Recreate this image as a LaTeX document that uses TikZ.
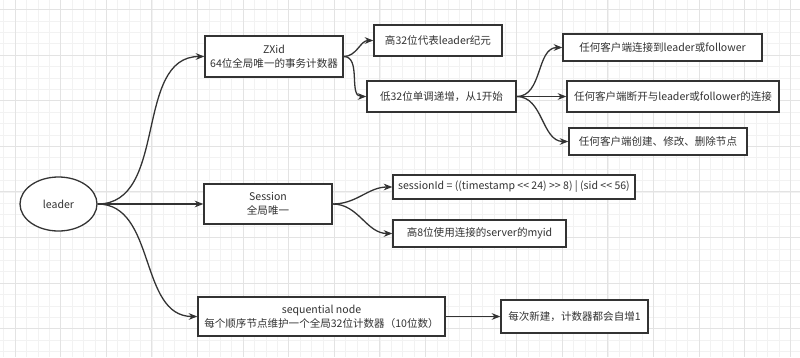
\documentclass[tikz,border=0pt]{standalone}
\usepackage{fontspec}
\newfontfamily\cjk{Noto Sans CJK SC}
\usepackage{tikz}
\usetikzlibrary{positioning,arrows.meta,shapes.geometric}
\definecolor{txtgray}{HTML}{333333}

\begin{document}
\begin{tikzpicture}[
  x=0.03cm, y=-0.03cm,
  every node/.style={font=\cjk\fontsize{9}{12}\selectfont, text=txtgray},
  box/.style={draw=black!80, line width=1.1pt, fill=white, align=center, inner sep=1pt},
  root/.style={box, ellipse},
  link/.style={draw=black!80, line width=1.1pt, -{Stealth[length=2.6mm,width=2mm]}},
  curved/.style={link, out=0, in=180},
  gridminor/.style={draw=black!5, line width=0.5pt},
  gridmajor/.style={draw=black!11, line width=0.6pt}]
  \useasboundingbox (0,0) rectangle (800,357);
  \fill[white] (0,0) rectangle (800,357);
  % background grid
  \foreach \k in {-1,...,69} \draw[gridminor] ({15+11.4*\k},0) -- ({15+11.4*\k},357);
  \foreach \k in {-1,...,31} \draw[gridminor] (0,{9.4+11.4*\k}) -- (800,{9.4+11.4*\k});
  \foreach \k in {0,...,17} \draw[gridmajor] ({15+45.6*\k},0) -- ({15+45.6*\k},357);
  \foreach \k in {0,...,7} \draw[gridmajor] (0,{9.4+45.6*\k}) -- (800,{9.4+45.6*\k});

  \node[root, minimum width=77*0.03cm, minimum height=54*0.03cm] (leader) at (58.5,204) {leader};

  \node[box, minimum width=138*0.03cm, minimum height=41*0.03cm] (zxid) at (274,56.5) {ZXid\\64位全局唯一的事务计数器};
  \node[box, minimum width=128*0.03cm, minimum height=31*0.03cm] (hi32) at (438,40.5) {高32位代表leader纪元};
  \node[box, minimum width=149*0.03cm, minimum height=31*0.03cm] (lo32) at (441.5,96.5) {低32位单调递增，从1开始};
  \node[box, minimum width=199*0.03cm, minimum height=27*0.03cm] (conn) at (662.5,47.5) {任何客户端连接到leader或follower};
  \node[box, minimum width=212*0.03cm, minimum height=31*0.03cm] (disc) at (673,96.5) {任何客户端断开与leader或follower的连接};
  \node[box, minimum width=178*0.03cm, minimum height=27*0.03cm] (crud) at (658,141.5) {任何客户端创建、修改、删除节点};

  \node[box, minimum width=128*0.03cm, minimum height=40*0.03cm] (session) at (268,204) {Session\\全局唯一};
  \node[box, minimum width=242*0.03cm, minimum height=24*0.03cm] (sid) at (514,187) {sessionId = ((timestamp << 24) >> 8) | (sid << 56)};
  \node[box, minimum width=173*0.03cm, minimum height=27*0.03cm] (myid) at (479.5,233.5) {高8位使用连接的server的myid};

  \node[box, minimum width=247*0.03cm, minimum height=39*0.03cm] (seq) at (321.5,316.5) {sequential node\\每个顺序节点维护一个全局32位计数器（10位数）};
  \node[box, minimum width=147*0.03cm, minimum height=33*0.03cm] (incr) at (574.5,316.5) {每次新建，计数器都会自增1};

  \draw[curved] (leader.east) to (zxid.west);
  \draw[link] (leader.east) -- (session.west);
  \draw[curved] (leader.east) to (seq.west);

  \draw[curved] (zxid.east) to (hi32.west);
  \draw[curved] (zxid.east) to (lo32.west);
  \draw[curved] (lo32.east) to (conn.west);
  \draw[link] (lo32.east) -- (disc.west);
  \draw[curved] (lo32.east) to (crud.west);

  \draw[curved] (session.east) to (sid.west);
  \draw[curved] (session.east) to (myid.west);

  \draw[link] (seq.east) -- (incr.west);
\end{tikzpicture}
\end{document}
